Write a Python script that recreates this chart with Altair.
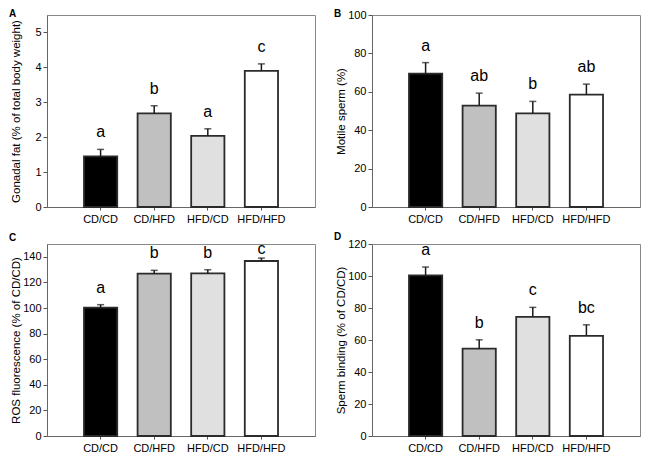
import altair as alt
import pandas as pd

FONT = "Liberation Sans"

groups = ["CD/CD", "CD/HFD", "HFD/CD", "HFD/HFD"]
fills = ["#000000", "#c0c0c0", "#e0e0e0", "#ffffff"]

# Panel A
gonadal_mean = [1.45, 2.68, 2.04, 3.90]
gonadal_sem = [0.20, 0.22, 0.20, 0.20]
gonadal_letters = ["a", "b", "a", "c"]

# Panel B
motile_mean = [69.5, 52.8, 48.8, 58.5]
motile_sem = [5.7, 6.5, 6.2, 5.5]
motile_letters = ["a", "ab", "b", "ab"]

# Panel C
ros_mean = [100.3, 126.8, 127.0, 136.7]
ros_sem = [2.3, 2.6, 2.9, 2.3]
ros_letters = ["a", "b", "b", "c"]

# Panel D
binding_mean = [100.4, 54.6, 74.4, 62.6]
binding_sem = [5.2, 5.5, 6.0, 6.9]
binding_letters = ["a", "b", "c", "bc"]

H = 192


def panel(label, mean, sem, letters, ymax, ticks, ytitle, label_dy):
    df = pd.DataFrame({"group": groups, "mean": mean, "sem": sem, "letter": letters})
    base = alt.Chart(df).transform_calculate(
        hi="datum.mean + datum.sem",
        ly=f"min(datum.mean + datum.sem, {ymax * 0.885})",
    )
    x = alt.X(
        "group:N", sort=groups, title=None,
        scale=alt.Scale(paddingInner=0.38, paddingOuter=0.69),
        axis=alt.Axis(labelAngle=0, tickSize=3, labelPadding=3),
    )
    yscale = alt.Scale(domain=[0, ymax], nice=False, zero=True)
    yaxis = alt.Axis(values=ticks, title=ytitle, tickSize=4, labelPadding=2,
                     minExtent=25, maxExtent=25, titlePadding=1)
    bars = base.mark_bar(stroke="#2b2b2b", strokeWidth=1.8).encode(
        x=x,
        y=alt.Y("mean:Q", scale=yscale, axis=yaxis),
        fill=alt.Fill("group:N", scale=alt.Scale(domain=groups, range=fills), legend=None),
    )
    err = base.mark_rule(color="#1a1a1a", strokeWidth=1.5).encode(
        x=x, y=alt.Y("hi:Q", scale=yscale, axis=yaxis), y2="mean:Q"
    )
    cap = base.mark_tick(color="#1a1a1a", thickness=1.5, size=7).encode(
        x=x, y=alt.Y("hi:Q", scale=yscale, axis=yaxis)
    )
    txt = base.mark_text(fontSize=16, font=FONT, dy=-12, baseline="alphabetic", color="black").encode(
        x=x, y=alt.Y("ly:Q", scale=yscale, axis=yaxis), text="letter:N"
    )
    return alt.layer(bars, err, cap, txt).properties(
        width=268, height=H,
        title=alt.TitleParams(label, anchor="start", frame="group", orient="top",
                              offset=0, dx=-38, dy=label_dy,
                              fontSize=10, fontWeight="bold", font=FONT, color="black"),
    )


pA = panel("A", gonadal_mean, gonadal_sem, gonadal_letters, 5.5, [0, 1, 2, 3, 4, 5],
           "Gonadal fat (% of total body weight)", 4)
pB = panel("B", motile_mean, motile_sem, motile_letters, 100, [0, 20, 40, 60, 80, 100],
           "Motile sperm (%)", 10)
pC = panel("C", ros_mean, ros_sem, ros_letters, 150, [0, 20, 40, 60, 80, 100, 120, 140],
           "ROS fluorescence (% of CD/CD)", 2)
pD = panel("D", binding_mean, binding_sem, binding_letters, 120, [0, 20, 40, 60, 80, 100, 120],
           "Sperm binding (% of CD/CD)", 4)

chart = alt.vconcat(
    alt.hconcat(pA, pB, spacing=17),
    alt.hconcat(pC, pD, spacing=17),
    spacing=6,
).properties(padding=0).configure_axis(
    labelFont=FONT, titleFont=FONT, labelColor="black", titleColor="black",
    domainColor="#666", tickColor="#555", grid=False,
    labelFontSize=11, titleFontSize=11.5, titleFontWeight="normal",
).configure_view(stroke="#888", strokeWidth=1)

chart.save("out.html", embed_options={"renderer": "svg", "actions": False})
